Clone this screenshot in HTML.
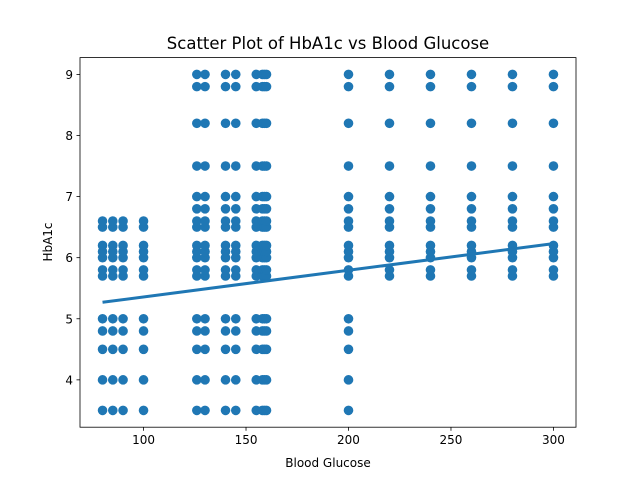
<!DOCTYPE html>
<html><head><meta charset="utf-8"><style>
body{margin:0;background:#fff;}
svg{font-family:"DejaVu Sans","Liberation Sans",sans-serif;}
</style></head><body>
<svg id="chart" width="640" height="480" xmlns="http://www.w3.org/2000/svg">
<rect width="640" height="480" fill="#fff"/>
<text x="328" y="49" text-anchor="middle" font-size="16.5">Scatter Plot of HbA1c vs Blood Glucose</text>
<g id="points"></g>
<g id="axes"></g>
<text x="328" y="467" text-anchor="middle" font-size="12">Blood Glucose</text>
<text x="0" y="0" transform="translate(52,242) rotate(-90)" text-anchor="middle" font-size="12">HbA1c</text>
</svg>
<script>
const glucoseLow = [80, 85, 90, 100];
const glucoseMid = [126, 130, 140, 145, 155, 158, 159, 160];
const glucose200 = [200];
const glucoseHigh = [220, 240, 260, 280, 300];
const hbaLow = [3.5, 4.0, 4.5, 4.8, 5.0, 5.7, 5.8, 6.0, 6.1, 6.2, 6.5, 6.6];
const hbaAll = [3.5, 4.0, 4.5, 4.8, 5.0, 5.7, 5.8, 6.0, 6.1, 6.2, 6.5, 6.6, 6.8, 7.0, 7.5, 8.2, 8.8, 9.0];
const hbaHigh = [5.7, 5.8, 6.0, 6.1, 6.2, 6.5, 6.6, 6.8, 7.0, 7.5, 8.2, 8.8, 9.0];
const fitX = [80, 300];
const fitY = [5.27, 6.23];
const xTicks = [100, 150, 200, 250, 300];
const yTicks = [4, 5, 6, 7, 8, 9];

const L=80,R=576,T=57.6,B=427.2;
const xmin=69,xmax=311,ymin=3.225,ymax=9.275;
const xs=v=>L+(v-xmin)/(xmax-xmin)*(R-L);
const ys=v=>B-(v-ymin)/(ymax-ymin)*(B-T);
const NS="http://www.w3.org/2000/svg";
const pts=document.getElementById('points');
const axes=document.getElementById('axes');
function mk(tag,attrs,parent){const e=document.createElementNS(NS,tag);for(const k in attrs)e.setAttribute(k,attrs[k]);parent.appendChild(e);return e;}
function addGroup(gs,hs){
  gs.forEach(g=>hs.forEach(h=>{
    const c=mk('circle',{cx:xs(g),cy:ys(h),r:4.8,fill:'#1f77b4'},pts);
    
    
  }));
}
addGroup(glucoseLow,hbaLow);
addGroup(glucoseMid,hbaAll);
addGroup(glucose200,hbaAll);
addGroup(glucoseHigh,hbaHigh);
const line=mk('line',{x1:xs(fitX[0]),y1:ys(fitY[0]),x2:xs(fitX[1]),y2:ys(fitY[1]),stroke:'#1f77b4','stroke-width':3},pts);


const frame=mk('rect',{x:L,y:T,width:R-L,height:B-T,fill:'none',stroke:'#000','stroke-width':0.8},axes);


xTicks.forEach(t=>{
  mk('line',{x1:xs(t),x2:xs(t),y1:B,y2:B+3.5,stroke:'#000','stroke-width':0.8},axes);
  const tx=mk('text',{x:xs(t),y:B+17,'text-anchor':'middle','font-size':12},axes);
  tx.textContent=t;
  
  
});
yTicks.forEach(t=>{
  mk('line',{x1:L-3.5,x2:L,y1:ys(t),y2:ys(t),stroke:'#000','stroke-width':0.8},axes);
  const tx=mk('text',{x:L-7,y:ys(t)+4.5,'text-anchor':'end','font-size':12},axes);
  tx.textContent=t;
  
  
});
</script>
</body></html>
